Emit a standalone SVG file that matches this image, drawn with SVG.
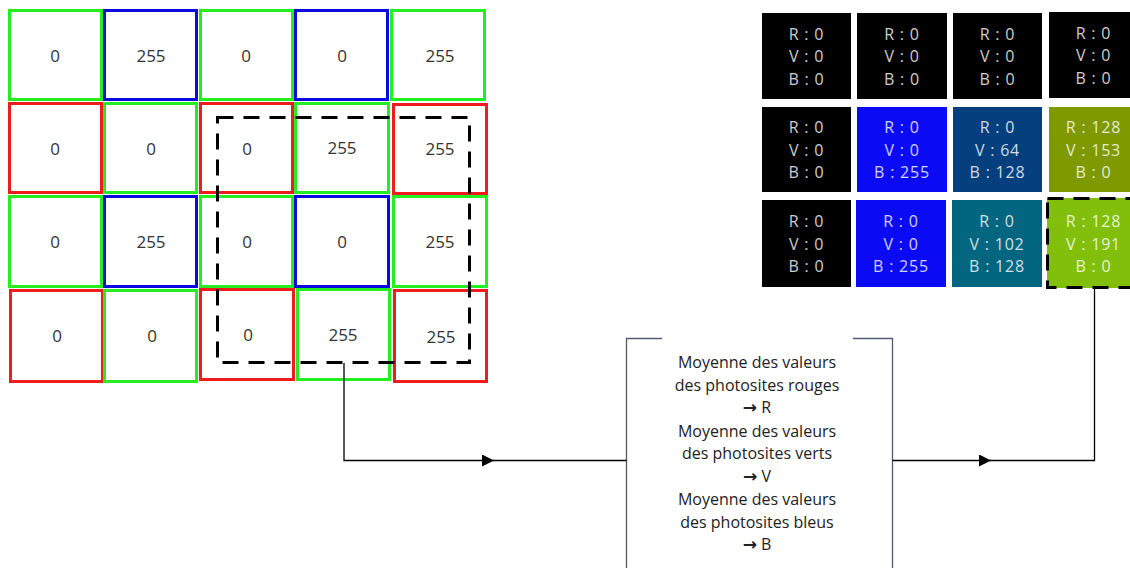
<svg xmlns="http://www.w3.org/2000/svg" width="1130" height="568" viewBox="0 0 1130 568">
  <style>
    .cell { fill: #ffffff; stroke-width: 3; }
    .g { stroke: #22ee22; }
    .b { stroke: #0a0ae0; }
    .r { stroke: #ee1c1c; }
    .val { font-family: "Open Sans", "Liberation Sans", sans-serif; font-size: 17px; fill: #333333; text-anchor: middle; }
    .px { stroke: none; }
    .pxt { font-family: "Open Sans", "Liberation Sans", sans-serif; font-size: 16px; fill: #ffffff; fill-opacity: 0.82; text-anchor: middle; letter-spacing: 0.8px; }
    .dash { fill: none; stroke: #000000; stroke-width: 3; stroke-dasharray: 16 10; }
    .wire { fill: none; stroke: #000000; stroke-width: 1.3; }
    .frame { fill: none; stroke: #4f5b75; stroke-width: 1.3; }
    .note { font-family: "Open Sans", "Liberation Sans", sans-serif; font-size: 16px; fill: #222222; text-anchor: middle; }
    .arr { font-family: "DejaVu Sans", sans-serif; font-weight: bold; font-size: 17px; }
  </style>
  <defs>
    <marker id="arrow" viewBox="0 0 12 12" refX="12" refY="6" markerWidth="12" markerHeight="12" markerUnits="userSpaceOnUse" orient="auto">
      <path d="M0,0 L12,6 L0,12 Z" fill="#000000"/>
    </marker>
  </defs>

  <!-- Bayer mosaic: photosite values -->
  <g id="bayer-grid">
    <g id="row1">
      <rect class="cell g" x="9.5" y="10.5" width="92" height="89"/>
      <rect class="cell b" x="104.5" y="10.5" width="92" height="89"/>
      <rect class="cell g" x="200.5" y="10.5" width="92" height="89"/>
      <rect class="cell b" x="295.5" y="10.5" width="92" height="89"/>
      <rect class="cell g" x="391.5" y="10.5" width="93" height="89"/>
      <text class="val" x="55" y="62">0</text>
      <text class="val" x="151" y="62">255</text>
      <text class="val" x="246" y="62">0</text>
      <text class="val" x="342" y="62">0</text>
      <text class="val" x="440" y="62">255</text>
    </g>
    <g id="row2">
      <rect class="cell r" x="9.5" y="103.5" width="92" height="89"/>
      <rect class="cell g" x="104.5" y="103.5" width="92" height="89"/>
      <rect class="cell r" x="200.5" y="103.5" width="92" height="89"/>
      <rect class="cell g" x="295.5" y="103.5" width="93" height="89"/>
      <rect class="cell r" x="393.5" y="104.5" width="93" height="89"/>
      <text class="val" x="55" y="155">0</text>
      <text class="val" x="151" y="155">0</text>
      <text class="val" x="247" y="155">0</text>
      <text class="val" x="342" y="154">255</text>
      <text class="val" x="440" y="155">255</text>
    </g>
    <g id="row3">
      <rect class="cell g" x="9.5" y="196.5" width="92" height="90"/>
      <rect class="cell b" x="104.5" y="196.5" width="92" height="90"/>
      <rect class="cell g" x="200.5" y="196.5" width="92" height="90"/>
      <rect class="cell b" x="295.5" y="196.5" width="93" height="90"/>
      <rect class="cell g" x="393.5" y="196.5" width="93" height="90"/>
      <text class="val" x="55" y="248">0</text>
      <text class="val" x="151" y="248">255</text>
      <text class="val" x="247" y="248">0</text>
      <text class="val" x="342" y="248">0</text>
      <text class="val" x="440" y="248">255</text>
    </g>
    <g id="row4">
      <rect class="cell r" x="10.5" y="290.5" width="92" height="91"/>
      <rect class="cell g" x="104.5" y="290.5" width="92" height="91"/>
      <rect class="cell r" x="200.5" y="289.5" width="93" height="90"/>
      <rect class="cell g" x="297.5" y="289.5" width="92" height="90"/>
      <rect class="cell r" x="394.5" y="290.5" width="92" height="91"/>
      <text class="val" x="57" y="342">0</text>
      <text class="val" x="152" y="342">0</text>
      <text class="val" x="248" y="341">0</text>
      <text class="val" x="343" y="341">255</text>
      <text class="val" x="441" y="343">255</text>
    </g>
  </g>

  <!-- 3x3 neighbourhood used for demosaicing -->
  <g id="neighbourhood">
    <rect class="dash" x="217.5" y="117.5" width="252" height="245"/>
  </g>

  <!-- Reconstructed RGB pixels -->
  <g id="rgb-pixels">
    <g id="px-1-1">
      <rect class="px" x="762" y="13" width="89" height="86" fill="#000000"/>
      <text class="pxt" x="806.5" y="39.5">R : 0</text>
      <text class="pxt" x="806.5" y="62">V : 0</text>
      <text class="pxt" x="806.5" y="84.5">B : 0</text>
    </g>
    <g id="px-1-2">
      <rect class="px" x="857" y="13" width="90" height="86" fill="#000000"/>
      <text class="pxt" x="902" y="39.5">R : 0</text>
      <text class="pxt" x="902" y="62">V : 0</text>
      <text class="pxt" x="902" y="84.5">B : 0</text>
    </g>
    <g id="px-1-3">
      <rect class="px" x="953" y="13" width="89" height="86" fill="#000000"/>
      <text class="pxt" x="997.5" y="39.5">R : 0</text>
      <text class="pxt" x="997.5" y="62">V : 0</text>
      <text class="pxt" x="997.5" y="84.5">B : 0</text>
    </g>
    <g id="px-1-4">
      <rect class="px" x="1049" y="12" width="89" height="86" fill="#000000"/>
      <text class="pxt" x="1093.5" y="38.5">R : 0</text>
      <text class="pxt" x="1093.5" y="61">V : 0</text>
      <text class="pxt" x="1093.5" y="83.5">B : 0</text>
    </g>

    <g id="px-2-1">
      <rect class="px" x="762" y="107" width="89" height="85" fill="#000000"/>
      <text class="pxt" x="806.5" y="133">R : 0</text>
      <text class="pxt" x="806.5" y="155.5">V : 0</text>
      <text class="pxt" x="806.5" y="178">B : 0</text>
    </g>
    <g id="px-2-2">
      <rect class="px" x="857" y="107" width="90" height="85" fill="#0a0af5"/>
      <text class="pxt" x="902" y="133">R : 0</text>
      <text class="pxt" x="902" y="155.5">V : 0</text>
      <text class="pxt" x="902" y="178">B : 255</text>
    </g>
    <g id="px-2-3">
      <rect class="px" x="953" y="107" width="89" height="85" fill="#063f7e"/>
      <text class="pxt" x="997.5" y="133">R : 0</text>
      <text class="pxt" x="997.5" y="155.5">V : 64</text>
      <text class="pxt" x="997.5" y="178">B : 128</text>
    </g>
    <g id="px-2-4">
      <rect class="px" x="1049" y="107" width="89" height="85" fill="#7f9a00"/>
      <text class="pxt" x="1093.5" y="133">R : 128</text>
      <text class="pxt" x="1093.5" y="155.5">V : 153</text>
      <text class="pxt" x="1093.5" y="178">B : 0</text>
    </g>

    <g id="px-3-1">
      <rect class="px" x="762" y="200" width="89" height="87" fill="#000000"/>
      <text class="pxt" x="806.5" y="227">R : 0</text>
      <text class="pxt" x="806.5" y="249.5">V : 0</text>
      <text class="pxt" x="806.5" y="272">B : 0</text>
    </g>
    <g id="px-3-2">
      <rect class="px" x="856" y="200" width="90" height="87" fill="#0a0af5"/>
      <text class="pxt" x="901" y="227">R : 0</text>
      <text class="pxt" x="901" y="249.5">V : 0</text>
      <text class="pxt" x="901" y="272">B : 255</text>
    </g>
    <g id="px-3-3">
      <rect class="px" x="952" y="200" width="90" height="87" fill="#026680"/>
      <text class="pxt" x="997" y="227">R : 0</text>
      <text class="pxt" x="997" y="249.5">V : 102</text>
      <text class="pxt" x="997" y="272">B : 128</text>
    </g>
    <g id="px-3-4">
      <rect class="px" x="1047" y="198" width="91" height="90" fill="#82bf0a"/>
      <rect class="dash" x="1047.5" y="198.5" width="90" height="89"/>
      <text class="pxt" x="1093.5" y="227">R : 128</text>
      <text class="pxt" x="1093.5" y="249.5">V : 191</text>
      <text class="pxt" x="1093.5" y="272">B : 0</text>
    </g>
  </g>

  <!-- Averaging step -->
  <g id="averaging">
    <path class="frame" d="M662,338.5 H626.5 V568"/>
    <path class="frame" d="M853,338.5 H892.5 V568"/>
    <text class="note" x="757" y="368">Moyenne des valeurs</text>
    <text class="note" x="757" y="390.5">des photosites rouges</text>
    <text class="note" x="757" y="413"><tspan class="arr">→</tspan> R</text>
    <text class="note" x="757" y="436.5">Moyenne des valeurs</text>
    <text class="note" x="757" y="459">des photosites verts</text>
    <text class="note" x="757" y="482"><tspan class="arr">→</tspan> V</text>
    <text class="note" x="757" y="505">Moyenne des valeurs</text>
    <text class="note" x="757" y="527.5">des photosites bleus</text>
    <text class="note" x="757" y="550"><tspan class="arr">→</tspan> B</text>
  </g>

  <!-- Connectors -->
  <g id="connectors">
    <path class="wire" d="M344,363 V460.5 H494" marker-end="url(#arrow)"/>
    <path class="wire" d="M493,460.5 H626.5"/>
    <path class="wire" d="M892.5,460.5 H991" marker-end="url(#arrow)"/>
    <path class="wire" d="M990,460.5 H1094.5 V289"/>
  </g>
</svg>
